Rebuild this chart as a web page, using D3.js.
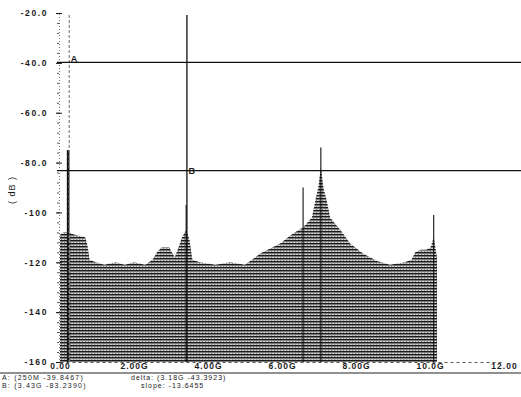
<!DOCTYPE html>
<html>
<head>
<meta charset="utf-8">
<script src="https://cdn.jsdelivr.net/npm/d3@7"></script>
<style>
  body { margin: 0; background: #fff; }
  svg text { font-family: "Liberation Sans", Arial, sans-serif; fill: #1a1a1a; }
</style>
</head>
<body>
<div id="container"></div>
<script>
// spectrum envelope (GHz, dB)
const freqs = [0, 0.1, 0.22, 0.4, 0.68, 0.74, 0.8, 0.97, 1.2, 1.5, 1.75, 2.0, 2.3, 2.5,
  2.62, 2.75, 2.95, 3.1, 3.18, 3.3, 3.41, 3.5, 3.58, 3.78, 4.2, 4.6, 5.0, 5.14, 5.41,
  5.95, 6.3, 6.57, 6.81, 6.89, 6.98, 7.05, 7.12, 7.22, 7.3, 7.65, 7.84,
  8.19, 8.57, 8.92, 9.32, 9.5, 9.6, 9.75, 9.9, 10.02, 10.1, 10.19];
const levels = [-109, -108, -108, -109, -110, -113, -119, -120, -121, -120, -121, -120, -121, -119,
  -116, -114, -114, -118, -115, -110, -107, -111, -119, -120, -121, -120, -121, -119.5, -116.5,
  -112.5, -108.5, -106, -102, -96, -90, -82, -90, -96, -102, -108.5, -112.5,
  -116.5, -119.5, -121, -120, -119, -116, -115, -115, -114, -110, -118];

// narrow tones sticking out of the floor
const spikeFreqs = [0.22, 3.41, 6.57, 7.05, 10.1];
const spikeLevels = [-75, -97, -90, -74, -101];

const yTicks = [-20, -40, -60, -80, -100, -120, -140, -160];
const yTickLabels = ["-20.0", "-40.0", "-60.0", "-80.0", "-100", "-120", "-140", "-160"];
const xTicks = [0, 2, 4, 6, 8, 10, 12];
const xTickLabels = ["0.00", "2.00G", "4.00G", "6.00G", "8.00G", "10.0G", "12.00"];

const markerNames = ["A", "B"];
const markerFreqs = [0.25, 3.43];
const markerLevels = [-39.8467, -83.239];
const readoutLeft = ["A: (250M -39.8467)", "B: (3.43G -83.2390)"];
const readoutRight = ["delta: (3.18G -43.3923)", "slope: -13.6455"];

function init() {
  const width = 521;
  const height = 397;
  const font = "\"Liberation Sans\", Arial, sans-serif";

  const x = d3.scaleLinear().domain([0, 12]).range([60, 504]);
  const y = d3.scaleLinear().domain([-20, -160]).range([13, 362]);

  const svg = d3.select("#container").append("svg")
    .attr("width", width)
    .attr("height", height);

  // horizontal hatching like the plotter output
  const defs = svg.append("defs");
  const hatch = defs.append("pattern")
    .attr("id", "hatch")
    .attr("patternUnits", "userSpaceOnUse")
    .attr("width", 3)
    .attr("height", 3);
  hatch.append("rect").attr("width", 3).attr("height", 3).attr("fill", "#d8d8d8");
  hatch.append("rect").attr("width", 3).attr("height", 1.5).attr("fill", "#1c1c1c");
  hatch.append("rect").attr("x", 1).attr("y", 1.9).attr("width", 1.2).attr("height", 0.8).attr("fill", "#6a6a6a");

  const spectrum = freqs.map((f, i) => [f, levels[i]]);

  const area = d3.area()
    .x(d => x(d[0]))
    .y0(y(-160))
    .y1(d => y(d[1]));

  svg.append("path")
    .datum(spectrum)
    .attr("d", area)
    .attr("fill", "url(#hatch)");

  // spikes
  svg.append("g")
    .selectAll("line")
    .data(spikeFreqs)
    .join("line")
    .attr("x1", d => x(d))
    .attr("x2", d => x(d))
    .attr("y1", y(-160))
    .attr("y2", (d, i) => y(spikeLevels[i]))
    .attr("stroke", "#111")
    .attr("stroke-width", (d, i) => (i === 0 ? 2.6 : 1.1));

  // y axis
  const yMinor = d3.range(-20, -161, -4);
  svg.append("g")
    .attr("transform", "translate(59,0)")
    .call(d3.axisLeft(y).tickValues(yMinor).tickSize(2).tickFormat(""))
    .call(g => g.select(".domain").attr("stroke", "#777").attr("stroke-dasharray", "1,2"))
    .call(g => g.selectAll(".tick line").attr("stroke", "#555"));

  const yAxis = d3.axisLeft(y)
    .tickValues(yTicks)
    .tickFormat((d, i) => yTickLabels[i])
    .tickSize(3)
    .tickSizeOuter(0)
    .tickPadding(8);
  svg.append("g")
    .attr("transform", "translate(59,0)")
    .call(yAxis)
    .call(g => g.select(".domain").remove())
    .call(g => g.selectAll(".tick line").attr("stroke", "#111").attr("x2", 3).attr("x1", -3))
    .call(g => g.selectAll(".tick text")
      .attr("font-size", 8.5)
      .attr("font-weight", "bold")
      .attr("letter-spacing", 1.6)
      .style("font-family", font));

  svg.append("text")
    .attr("transform", "translate(15,190) rotate(-90)")
    .attr("text-anchor", "middle")
    .attr("font-size", 9)
    .attr("letter-spacing", 1)
    .text("( dB )");

  // x axis
  const xAxis = d3.axisBottom(x)
    .tickValues(xTicks)
    .tickFormat((d, i) => xTickLabels[i])
    .tickSize(0)
    .tickPadding(1);
  svg.append("g")
    .attr("transform", `translate(0,${y(-160)})`)
    .call(xAxis)
    .call(g => g.select(".domain").attr("stroke", "#555").attr("stroke-dasharray", "3,3"))
    .call(g => g.selectAll(".tick text")
      .attr("font-size", 8.5)
      .attr("font-weight", "bold")
      .attr("letter-spacing", 1)
      .style("font-family", font));

  // markers
  const markers = markerNames.map((name, i) => ({ name, f: markerFreqs[i], db: markerLevels[i] }));
  const mg = svg.append("g");
  mg.selectAll("line.v")
    .data(markers)
    .join("line")
    .attr("class", "v")
    .attr("x1", d => x(d.f))
    .attr("x2", d => x(d.f))
    .attr("y1", 15)
    .attr("y2", y(-160))
    .attr("stroke", (d, i) => (i === 0 ? "#8a8a8a" : "#111"))
    .attr("stroke-dasharray", (d, i) => (i === 0 ? "3,2" : null))
    .attr("stroke-width", 1.3);
  mg.selectAll("line.h")
    .data(markers)
    .join("line")
    .attr("class", "h")
    .attr("x1", 57)
    .attr("x2", width)
    .attr("y1", d => y(d.db))
    .attr("y2", d => y(d.db))
    .attr("stroke", "#111")
    .attr("stroke-width", 1.2);
  mg.selectAll("text")
    .data(markers)
    .join("text")
    .attr("x", d => x(d.f) + 1.5)
    .attr("y", (d, i) => y(d.db) + (i === 0 ? 0 : 3.5))
    .attr("font-size", 9)
    .attr("font-weight", "bold")
    .text(d => d.name);

  // readout under the plot
  svg.append("line")
    .attr("x1", 0).attr("x2", width)
    .attr("y1", 373).attr("y2", 373)
    .attr("stroke", "#222");

  svg.append("g").selectAll("text")
    .data(readoutLeft)
    .join("text")
    .attr("x", 2)
    .attr("y", (d, i) => 380 + i * 8)
    .attr("font-size", 7)
    .attr("letter-spacing", 1.2)
    .text(d => d);

  svg.append("g").selectAll("text")
    .data(readoutRight)
    .join("text")
    .attr("x", (d, i) => (i === 0 ? 131 : 141))
    .attr("y", (d, i) => 380 + i * 8)
    .attr("font-size", 7)
    .attr("letter-spacing", 1)
    .text(d => d);
}

document.addEventListener("DOMContentLoaded", init);
</script>
</body>
</html>
